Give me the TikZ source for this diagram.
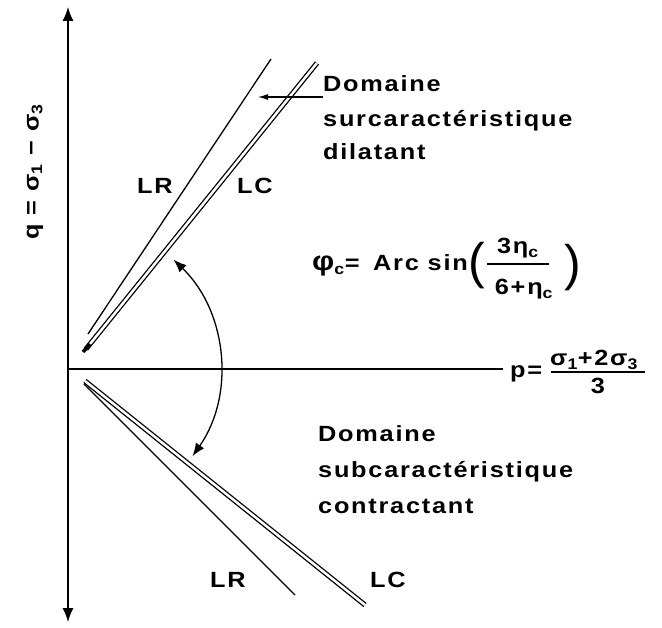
\documentclass[tikz,border=0pt]{standalone}
\usepackage{fontspec}
\setmainfont{Liberation Sans}
\newfontfamily\spaced{Liberation Sans}[FakeStretch=1.15, LetterSpace=8]
\usetikzlibrary{arrows.meta}
\tikzset{
  lbl/.style={font=\spaced\bfseries\fontsize{22}{26}\selectfont, inner sep=0pt},
  axis/.style={line width=1.3pt, {Latex[length=14pt,width=11pt]}-{Latex[length=14pt,width=11pt]}},
  haxis/.style={line width=1.3pt},
  rline/.style={line width=1.3pt},
  cline/.style={line width=1.3pt, double=white, double distance=2.5pt},
  curv/.style={line width=1.3pt, {Latex[length=13pt,width=10pt]}-{Latex[length=13pt,width=10pt]}},
  ptr/.style={line width=1.1pt, -{Latex[length=10pt,width=6pt]}},
  paren/.style={font=\fontsize{50}{50}\selectfont, inner sep=0pt}
}
\begin{document}
\begin{tikzpicture}[x=1pt,y=-1pt]
\useasboundingbox (0,0) rectangle (662,628);
% axes
\coordinate (o) at (68,369);
\coordinate (qtop) at (68,7);
\coordinate (qbot) at (68,622);
\coordinate (pend) at (503,369);
\draw[axis] (qbot) -- (qtop);
\draw[haxis] (o) -- (pend);
% upper lines
\coordinate (urA) at (88,334);
\coordinate (urB) at (271,59);
\coordinate (ucA) at (86,349);
\coordinate (ucB) at (317,63);
\draw[rline] (urA) -- (urB);
\draw[cline] (ucA) -- (ucB);
\coordinate (knobA) at (83,352);
\coordinate (knobB) at (90,344);
\draw[line width=3.5pt] (knobA) -- (knobB);
% lower lines
\coordinate (lrA) at (84,384);
\coordinate (lrB) at (295,595);
\coordinate (lcA) at (85,381);
\coordinate (lcB) at (365,605);
\draw[rline] (lrA) -- (lrB);
\draw[cline] (lcA) -- (lcB);
% pointer arrow
\coordinate (ptrA) at (323,97);
\coordinate (ptrB) at (258,97);
\draw[ptr] (ptrA) -- (ptrB);
% curved arrow
\draw[curv] (o) ++(-46:152) arc[start angle=-46, end angle=35, radius=152];
% labels LR / LC
\node[lbl, anchor=base west] (lr1) at (137,194) {LR};
\node[lbl, anchor=base west] (lc1) at (237,194) {LC};
\node[lbl, anchor=base west] (lr2) at (210,587) {LR};
\node[lbl, anchor=base west] (lc2) at (370,587) {LC};
% upper domain text
\node[lbl, anchor=base west] (d1) at (323,92) {Domaine};
\node[lbl, anchor=base west] (d2) at (323,127) {surcaractéristique};
\node[lbl, anchor=base west] (d3) at (323,160) {dilatant};
% lower domain text
\node[lbl, anchor=base west] (e1) at (318,442) {Domaine};
\node[lbl, anchor=base west] (e2) at (318,478) {subcaractéristique};
\node[lbl, anchor=base west] (e3) at (318,513) {contractant};
% formula
\node[lbl, anchor=base west] (phi) at (312,271) {{\fontsize{27}{27}\selectfont φ}\textsubscript{c}=};
\node[lbl, anchor=base east] (arcsin) at (468,271) {Arc sin};
\node[paren, anchor=west] (lp) at (468,266) {(};
\node[lbl, anchor=base] (fnum) at (518,254) {3η\textsubscript{c}};
\node[lbl, anchor=base] (fden) at (524,295) {6+η\textsubscript{c}};
\coordinate (frA) at (487,264);
\coordinate (frB) at (549,264);
\draw[line width=1.2pt] (frA) -- (frB);
\node[paren, anchor=west] (rp) at (564,268) {)};
% p label
\node[lbl, anchor=base west] (plab) at (510,378) {p=};
\node[lbl, anchor=base west] (pnum) at (550,366) {σ\textsubscript{1}+2σ\textsubscript{3}};
\node[lbl, anchor=base] (pden) at (598,394) {3};
\coordinate (pfA) at (551,372);
\coordinate (pfB) at (645,372);
\draw[line width=1.2pt] (pfA) -- (pfB);
% q label
\node[lbl, rotate=90] (qlab) at (35,172) {q = σ\textsubscript{1} − σ\textsubscript{3}};
\end{tikzpicture}
\end{document}
